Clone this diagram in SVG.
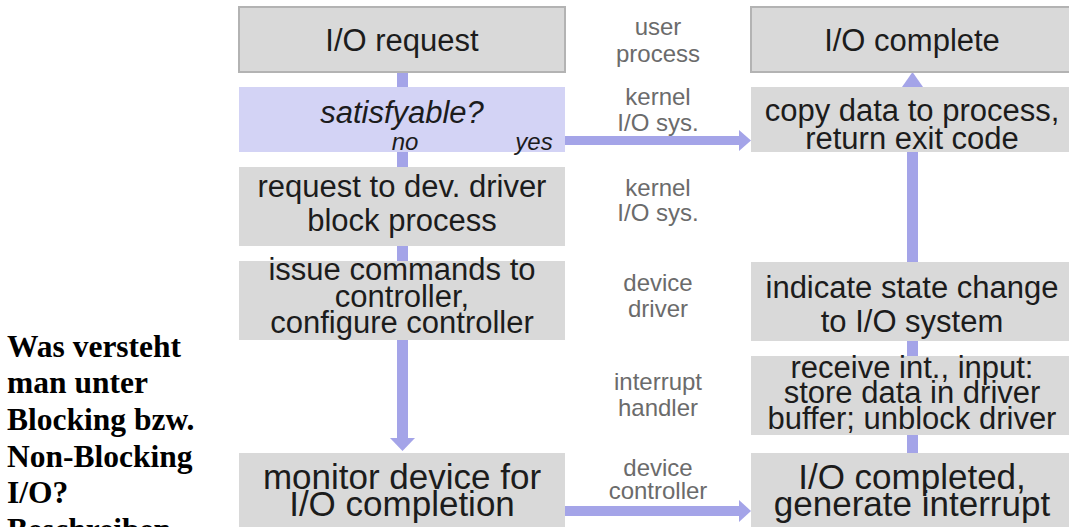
<svg xmlns="http://www.w3.org/2000/svg" width="1069" height="527" viewBox="0 0 1069 527">
<style>
.box{fill:#d9d9d9}
.bord{stroke:#b3b3b3;stroke-width:2}
.q{fill:#d3d3f5}
.arr{fill:#a4a4e8}
.t{font-family:"Liberation Sans",Arial,sans-serif;font-size:31px;fill:#1c1c1c;text-anchor:middle}
.tb{font-family:"Liberation Sans",Arial,sans-serif;font-size:35px;fill:#1c1c1c;text-anchor:middle}
.it{font-style:italic}
.yn{font-family:"Liberation Sans",Arial,sans-serif;font-size:24px;font-style:italic;fill:#1c1c1c;text-anchor:middle}
.lab{font-family:"Liberation Sans",Arial,sans-serif;font-size:24px;fill:#6b6b6b;text-anchor:middle}
.side{font-family:"Liberation Serif","Times New Roman",serif;font-size:31.5px;font-weight:bold;fill:#000}
</style>
<rect width="1069" height="527" fill="#fff"/>
<g id="connectors">
  <rect class="arr" x="397" y="70" width="11" height="19"/>
  <rect class="arr" x="397" y="150" width="11" height="19"/>
  <rect class="arr" x="397" y="244" width="11" height="19"/>
  <rect class="arr" x="397" y="338" width="11" height="101"/>
  <polygon class="arr" points="390,438 415,438 402.5,451"/>
  <rect class="arr" x="563" y="136" width="177" height="9"/>
  <polygon class="arr" points="739,130 751,140.5 739,151"/>
  <rect class="arr" x="563" y="506" width="177" height="10"/>
  <polygon class="arr" points="739,500 751,511 739,522"/>
  <rect class="arr" x="907" y="433" width="11" height="22"/>
  <rect class="arr" x="907" y="339" width="11" height="19"/>
  <rect class="arr" x="907" y="150" width="11" height="114"/>
  <polygon class="arr" points="902,87 923,87 912.5,72"/>
</g>
<g id="n-request">
  <rect class="box bord" x="239" y="7" width="326" height="65"/>
  <text class="t" x="402" y="51">I/O request</text>
</g>
<g id="n-satisfyable">
  <rect class="q" x="239" y="87" width="326" height="65"/>
  <text class="t it" x="402" y="123">satisfyable?</text>
  <text class="yn" x="405" y="150">no</text>
  <text class="yn" x="534" y="150">yes</text>
</g>
<g id="n-devdriver">
  <rect class="box" x="239" y="167" width="326" height="79"/>
  <text class="t" x="402" y="197">request to dev. driver</text>
  <text class="t" x="402" y="231">block process</text>
</g>
<g id="n-issue">
  <rect class="box" x="239" y="261" width="326" height="79"/>
  <text class="t" x="402" y="280">issue commands to</text>
  <text class="t" x="402" y="307">controller,</text>
  <text class="t" x="402" y="333">configure controller</text>
</g>
<g id="n-monitor">
  <rect class="box" x="239" y="453" width="326" height="80"/>
  <text class="tb" x="402" y="489">monitor device for</text>
  <text class="tb" x="402" y="516">I/O completion</text>
</g>
<g id="n-complete">
  <rect class="box bord" x="751" y="7" width="330" height="65"/>
  <text class="t" x="912" y="51">I/O complete</text>
</g>
<g id="n-copy">
  <rect class="box" x="751" y="87" width="330" height="65"/>
  <text class="t" x="912" y="121">copy data to process,</text>
  <text class="t" x="912" y="149">return exit code</text>
</g>
<g id="n-indicate">
  <rect class="box" x="751" y="262" width="330" height="79"/>
  <text class="t" x="912" y="298">indicate state change</text>
  <text class="t" x="912" y="332">to I/O system</text>
</g>
<g id="n-receive">
  <rect class="box" x="751" y="356" width="330" height="79"/>
  <text class="t" x="912" y="378">receive int., input:</text>
  <text class="t" x="912" y="403">store data in driver</text>
  <text class="t" x="912" y="429">buffer; unblock driver</text>
</g>
<g id="n-completed">
  <rect class="box" x="751" y="453" width="330" height="80"/>
  <text class="tb" x="912" y="489">I/O completed,</text>
  <text class="tb" x="912" y="516">generate interrupt</text>
</g>
<g id="layer-labels">
  <text class="lab" x="658" y="35">user</text>
  <text class="lab" x="658" y="62">process</text>
  <text class="lab" x="658" y="105">kernel</text>
  <text class="lab" x="658" y="131">I/O sys.</text>
  <text class="lab" x="658" y="196">kernel</text>
  <text class="lab" x="658" y="221">I/O sys.</text>
  <text class="lab" x="658" y="291">device</text>
  <text class="lab" x="658" y="317">driver</text>
  <text class="lab" x="658" y="390">interrupt</text>
  <text class="lab" x="658" y="416">handler</text>
  <text class="lab" x="658" y="476">device</text>
  <text class="lab" x="658" y="499">controller</text>
</g>
<g id="question">
  <text class="side" x="7" y="357">Was versteht</text>
  <text class="side" x="7" y="393">man unter</text>
  <text class="side" x="7" y="430">Blocking bzw.</text>
  <text class="side" x="7" y="467">Non-Blocking</text>
  <text class="side" x="7" y="503">I/O?</text>
  <text class="side" x="7" y="540">Beschreiben</text>
</g>
</svg>
